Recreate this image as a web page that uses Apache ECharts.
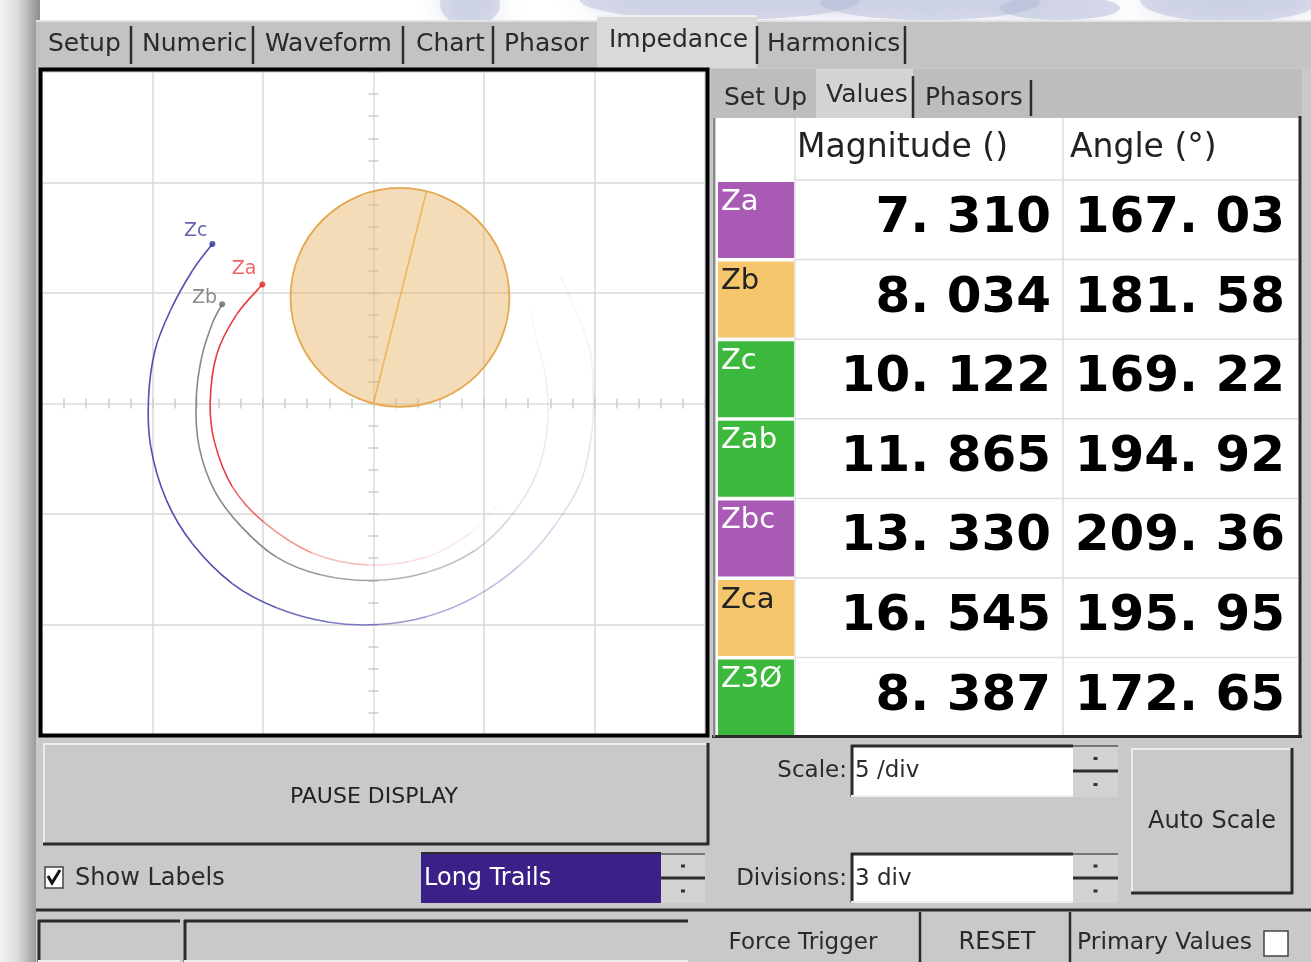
<!DOCTYPE html>
<html><head><meta charset="utf-8">
<script src="https://cdn.jsdelivr.net/npm/echarts@6/dist/echarts.min.js"></script>
<style>html,body{margin:0;padding:0;background:#fff;overflow:hidden}#c{width:1311px;height:962px}</style>
</head><body><div id="c"></div>
<script>
// ---------------- data ----------------
const TABS = ['Setup', 'Numeric', 'Waveform', 'Chart', 'Phasor', 'Impedance', 'Harmonics'];
const SELECTED_TAB = 5;
const SUB_TABS = ['Set Up', 'Values', 'Phasors'];
const SELECTED_SUB_TAB = 1;
const HEADERS = ['Magnitude ()', 'Angle (°)'];
const ROW_NAMES = ['Za', 'Zb', 'Zc', 'Zab', 'Zbc', 'Zca', 'Z3Ø'];
const MAGNITUDES = [7.310, 8.034, 10.122, 11.865, 13.330, 16.545, 8.387];
const ANGLES = [167.03, 181.58, 169.22, 194.92, 209.36, 195.95, 172.65];
const SCALE_PER_DIV = 5;
const DIVISIONS = 3;
const TRAIL_MODE = 'Long Trails';
// mho characteristic: reach (diameter) and angle
const MHO_REACH = 9.9;
const MHO_ANGLE = 76;
// impedance trails, newest point first (R, X)
const TRAIL_ZA = [[-5.03,5.38],[-6.19,4.03],[-7.09,2.23],[-7.39,0.04],[-7.19,-1.76],[-6.39,-3.76],[-4.99,-5.35],[-2.80,-6.75],[-0.20,-7.31],[2.39,-6.95],[4.39,-5.85],[5.6,-4.6]];
const TRAIL_ZB = [[-6.85,4.49],[-7.29,3.63],[-7.79,2.03],[-8.03,0.04],[-7.89,-1.96],[-7.19,-3.95],[-5.99,-5.56],[-4.39,-6.95],[-2.40,-7.75],[0.00,-8.01],[2.39,-7.65],[4.59,-6.65],[6.18,-5.15],[7.38,-3.16],[7.88,-0.96],[7.78,1.23],[7.38,2.83],[7.10,4.26]];
const TRAIL_ZC = [[-7.29,7.22],[-8.19,6.02],[-9.18,4.23],[-9.88,2.43],[-10.18,0.24],[-10.08,-1.95],[-9.38,-4.35],[-8.19,-6.35],[-6.39,-8.15],[-4.39,-9.24],[-2.00,-9.90],[0.20,-10.00],[2.39,-9.65],[4.59,-8.75],[6.58,-7.35],[8.18,-5.55],[9.37,-3.56],[9.87,-1.36],[9.94,0.83],[9.68,2.83],[8.47,5.76]];

// ---------------- layout / style ----------------
const FONT = "'DejaVu Sans', Verdana, sans-serif";
const GREY = '#c9c9c9';
const DARK = '#2b2b2b';
const ROW_COLORS = ['#a85ab4', '#f6c66c', '#3cb93c', '#3cb93c', '#a85ab4', '#f6c66c', '#3cb93c'];
const ROW_TEXT = ['#ffffff', '#222222', '#ffffff', '#ffffff', '#ffffff', '#222222', '#ffffff'];
const TAB_TEXT_X = [48, 142, 265, 416, 504, 609, 767];
const TAB_SEP_X = [131, 253, 403, 493, 757, 905];
const SUB_TAB_X = [724, 826, 925];

const g = [];
function R(x, y, w, h, style, z) { g.push({ type: 'rect', shape: { x, y, width: w, height: h }, style, z: z == null ? -10 : z, silent: true }); }
function L(x1, y1, x2, y2, stroke, lw, z) { g.push({ type: 'line', shape: { x1, y1, x2, y2 }, style: { stroke, lineWidth: lw }, z: z == null ? -9 : z, silent: true }); }
function T(x, y, text, size, fill, o) {
  o = o || {};
  g.push({ type: 'text', x, y, z: 20, silent: true,
    style: { text, font: (o.weight || 'normal') + ' ' + size + 'px ' + FONT, fill,
      textAlign: o.align || 'left', align: o.align || 'left',
      textVerticalAlign: o.va || 'middle', verticalAlign: o.va || 'middle' } });
}
function bevel(x, y, w, h) {
  R(x, y, w, h, { fill: GREY });
  L(x, y + 1, x + w, y + 1, '#ececec', 2);
  L(x + 1, y, x + 1, y + h, '#ececec', 2);
  L(x, y + h - 1, x + w, y + h - 1, DARK, 3);
  L(x + w - 1, y, x + w - 1, y + h, DARK, 3);
}
function sunken(x, y, w, h, fill) {
  R(x, y, w, h, { fill });
  L(x, y + 1, x + w, y + 1, DARK, 3);
  L(x + 1, y, x + 1, y + h, DARK, 3);
  L(x, y + h - 1, x + w, y + h - 1, '#eeeeee', 2);
}
function spinner(x, y, w, h) {
  R(x, y, w, h, { fill: '#d2d2d2' });
  L(x, y + h / 2, x + w, y + h / 2, DARK, 3);
  L(x, y + 1, x + w, y + 1, '#555', 1.5);
  R(x + w / 2 - 2, y + h / 4 - 1, 4, 3, { fill: '#333' });
  R(x + w / 2 - 2, y + 3 * h / 4 - 1, 4, 3, { fill: '#333' });
}

// page background + top blurred area
R(0, 0, 1311, 962, { fill: '#ffffff' }, -20);
[[470, 4, 30, 22], [720, 0, 140, 20], [930, 2, 110, 18], [1230, 0, 90, 22], [1060, 8, 60, 12]].forEach(e => {
  g.push({ type: 'ellipse', shape: { cx: e[0], cy: e[1], rx: e[2], ry: e[3] }, style: { fill: 'rgba(175,182,212,0.45)', shadowBlur: 25, shadowColor: 'rgba(175,182,212,0.8)' }, z: -19, silent: true });
});
R(0, 0, 40, 962, { fill: new echarts.graphic.LinearGradient(0, 0, 1, 0, [{ offset: 0, color: '#f3f3f3' }, { offset: 0.45, color: '#dcdcdc' }, { offset: 1, color: '#8c8c8c' }]) }, -18);
// window body
R(36, 20, 1275, 942, { fill: GREY }, -17);
// tab strip
R(36, 20, 1275, 48, { fill: '#c3c3c3' }, -16);
L(36, 21, 1311, 21, '#e2e2e2', 2, -15);
R(597, 15, 160, 53, { fill: '#d9d9d9' }, -15);
L(597, 16, 757, 16, '#f0f0f0', 2, -14);
TAB_SEP_X.forEach(x => L(x, 26, x, 64, DARK, 2.5, -14));
TABS.forEach((t, i) => T(TAB_TEXT_X[i], i === SELECTED_TAB ? 40 : 44, t, 25, '#2a2a2a'));

// chart area background and frame
R(42, 72, 664, 663, { fill: '#ffffff' }, -5);
g.push({ type: 'rect', shape: { x: 40.5, y: 69.5, width: 667, height: 666 }, style: { fill: null, stroke: '#000', lineWidth: 4 }, z: 30, silent: true });

// right panel: sub tabs
R(711, 69, 591, 50, { fill: '#bdbdbd' }, -12);
R(816, 69, 97, 50, { fill: '#d4d4d4' }, -11);
L(913, 76, 913, 118, DARK, 2.5, -10);
L(1031, 80, 1031, 116, DARK, 2.5, -10);
SUB_TABS.forEach((t, i) => T(SUB_TAB_X[i], i === SELECTED_SUB_TAB ? 95 : 98, t, 25, '#2a2a2a'));
// table
R(716, 118, 584, 618, { fill: '#ffffff' }, -9);
L(1300, 116, 1300, 738, DARK, 3, 25);
L(712, 736.5, 1302, 736.5, DARK, 3, 25);
L(714, 118, 714, 737, '#8a8a8a', 2, 25);
const ROW0 = 182, PITCH = 79.6, CELL_H = 76;
L(795, 118, 795, 735, '#dddddd', 1.5, -8);
L(1063, 118, 1063, 735, '#dddddd', 1.5, -8);
ROW_NAMES.forEach((n, i) => L(795, ROW0 - 2 + i * PITCH, 1298, ROW0 - 2 + i * PITCH, '#dddddd', 1.5, -8));
T(797, 148, HEADERS[0], 33, '#222');
T(1070, 148, HEADERS[1], 33, '#222');
const fmt = (v, d) => v.toFixed(d).replace('.', '. ');
ROW_NAMES.forEach((n, i) => {
  const top = ROW0 + i * PITCH;
  R(718, top, 76, CELL_H, { fill: ROW_COLORS[i] }, -7);
  T(721, top + 20, n, 29, ROW_TEXT[i]);
  T(1051, top + 37, fmt(MAGNITUDES[i], 3), 50, '#000', { align: 'right', weight: 'bold' });
  T(1285, top + 37, fmt(ANGLES[i], 2), 50, '#000', { align: 'right', weight: 'bold' });
});

// bottom controls
bevel(43, 743, 666, 102);
T(374, 797, 'PAUSE DISPLAY', 22, '#222', { align: 'center' });
R(45, 867, 18, 21, { fill: '#ffffff', stroke: '#444', lineWidth: 1.5 }, -6);
g.push({ type: 'polyline', shape: { points: [[48, 876], [52, 883], [60, 870]] }, style: { stroke: '#111', lineWidth: 3, fill: null }, z: 21, silent: true });
T(75, 879, 'Show Labels', 24, '#2a2a2a');
R(421, 853, 240, 50, { fill: '#3b2088' }, -6);
L(421, 853, 661, 853, DARK, 2, -5);
T(424, 879, TRAIL_MODE, 24, '#ffffff');
spinner(661, 853, 44, 50);
T(847, 771, 'Scale:', 23, '#2a2a2a', { align: 'right' });
sunken(851, 745, 222, 52, '#ffffff');
T(855, 771, SCALE_PER_DIV + ' /div', 23, '#2a2a2a');
spinner(1073, 745, 45, 52);
T(847, 879, 'Divisions:', 23, '#2a2a2a', { align: 'right' });
sunken(851, 853, 222, 50, '#ffffff');
T(855, 879, DIVISIONS + ' div', 23, '#2a2a2a');
spinner(1073, 853, 45, 50);
bevel(1131, 748, 162, 146);
T(1212, 822, 'Auto Scale', 24, '#2a2a2a', { align: 'center' });
// status bar
L(36, 910, 1311, 910, DARK, 3, -4);
sunken(38, 920, 142, 42, GREY);
sunken(184, 920, 504, 42, GREY);
L(920, 912, 920, 962, DARK, 2.5, -4);
L(1070, 912, 1070, 962, DARK, 2.5, -4);
T(803, 943, 'Force Trigger', 23, '#2a2a2a', { align: 'center' });
T(997, 943, 'RESET', 24, '#2a2a2a', { align: 'center' });
T(1077, 943, 'Primary Values', 23.5, '#2a2a2a');
R(1264, 931, 24, 25, { fill: '#ffffff', stroke: '#444', lineWidth: 1.5 }, -3);

// ---------------- chart ----------------
const AX_MIN = -SCALE_PER_DIV * DIVISIONS, AX_MAX = SCALE_PER_DIV * DIVISIONS;
const gridC = '#d9d9d9', zeroC = '#ececec';
const splitColors = [];
for (let v = AX_MIN; v <= AX_MAX; v += SCALE_PER_DIV) splitColors.push(v === 0 ? zeroC : gridC);
function axis(pos, main) {
  return {
    type: 'value', min: AX_MIN, max: AX_MAX, interval: SCALE_PER_DIV, position: pos,
    axisLine: { show: true, onZero: true, onZeroAxisIndex: 0, lineStyle: { color: '#e4e4e4', width: 1.5 } },
    axisTick: { show: true, length: 5, lineStyle: { color: '#cdcdcd', width: 1.5 } },
    minorTick: { show: true, splitNumber: 5, length: 5, lineStyle: { color: '#cdcdcd', width: 1.5 } },
    axisLabel: { show: false },
    splitLine: { show: main, lineStyle: { color: splitColors, width: 1.5 } },
    minorSplitLine: { show: false }
  };
}
function fade(t) {
  if (t < 0.4) return 1;
  if (t < 0.75) return 1 - (t - 0.4) / 0.35 * 0.78;
  return Math.max(0.05, 0.22 - (t - 0.75) / 0.25 * 0.17);
}
// smooth fading trail: one bezier segment per data point (Catmull-Rom through the read points)
function trailSeries(name, pts, color) {
  const n = pts.length - 1;
  return {
    name, type: 'custom', z: 3, silent: true, data: pts, encode: { x: 0, y: 1 },
    renderItem: function (params, api) {
      const i = params.dataIndex;
      if (i >= n) return null;
      const P = k => api.coord(pts[Math.max(0, Math.min(n, k))]);
      const p0 = P(i - 1), p1 = P(i), p2 = P(i + 1), p3 = P(i + 2);
      const op = fade(i / Math.max(1, n - 1));
      return { type: 'bezierCurve', shape: {
          x1: p1[0], y1: p1[1], x2: p2[0], y2: p2[1],
          cpx1: p1[0] + (p2[0] - p0[0]) / 6, cpy1: p1[1] + (p2[1] - p0[1]) / 6,
          cpx2: p2[0] - (p3[0] - p1[0]) / 6, cpy2: p2[1] - (p3[1] - p1[1]) / 6 },
        style: { stroke: color, lineWidth: 1.6, fill: null, opacity: op } };
    }
  };
}
const mhoR = MHO_REACH / 2, mhoA = MHO_ANGLE * Math.PI / 180;
const option = {
  animation: false,
  graphic: { elements: g },
  grid: { left: 42, top: 72, width: 663, height: 663, show: false },
  xAxis: [axis('bottom', true), axis('top', false)],
  yAxis: [axis('left', true), axis('right', false)],
  series: [
    { type: 'custom', z: 2, silent: true, data: [[mhoR * Math.cos(mhoA), mhoR * Math.sin(mhoA), mhoR]],
      renderItem: function (params, api) {
        const cx = api.value(0), cy = api.value(1), r = api.value(2);
        const c = api.coord([cx, cy]);
        const s = api.size([r, r]);
        const p1 = api.coord([cx - r * Math.cos(mhoA), cy - r * Math.sin(mhoA)]);
        const p2 = api.coord([cx + r * Math.cos(mhoA), cy + r * Math.sin(mhoA)]);
        return { type: 'group', children: [
          { type: 'ellipse', shape: { cx: c[0], cy: c[1], rx: s[0], ry: s[1] }, style: { fill: 'rgba(230,178,100,0.45)', stroke: '#e5a84e', lineWidth: 1.8 } },
          { type: 'line', shape: { x1: p1[0], y1: p1[1], x2: p2[0], y2: p2[1] }, style: { stroke: '#e9b75c', lineWidth: 1.6 } }
        ] };
      } },
    trailSeries('Zc', TRAIL_ZC, '#5050b0'),
    trailSeries('Zb', TRAIL_ZB, '#888888'),
    trailSeries('Za', TRAIL_ZA, '#e83a3a'),
    { type: 'scatter', z: 5, silent: true, symbolSize: 6,
      data: [
        { name: 'Zc', value: TRAIL_ZC[0], itemStyle: { color: '#2e2e96' }, label: { color: '#3c3c9c', offset: [3, -13] } },
        { name: 'Za', value: TRAIL_ZA[0], itemStyle: { color: '#e32626' }, label: { color: '#e84040', offset: [2, -16] } },
        { name: 'Zb', value: TRAIL_ZB[0], itemStyle: { color: '#666' }, label: { color: '#6e6e6e', offset: [3, -6] } }
      ],
      label: { show: true, position: 'left', formatter: '{b}', fontFamily: FONT, fontSize: 19 } }
  ]
};
const chart = echarts.init(document.getElementById('c'), null, { width: 1311, height: 962 });
chart.setOption(option);
</script></body></html>
